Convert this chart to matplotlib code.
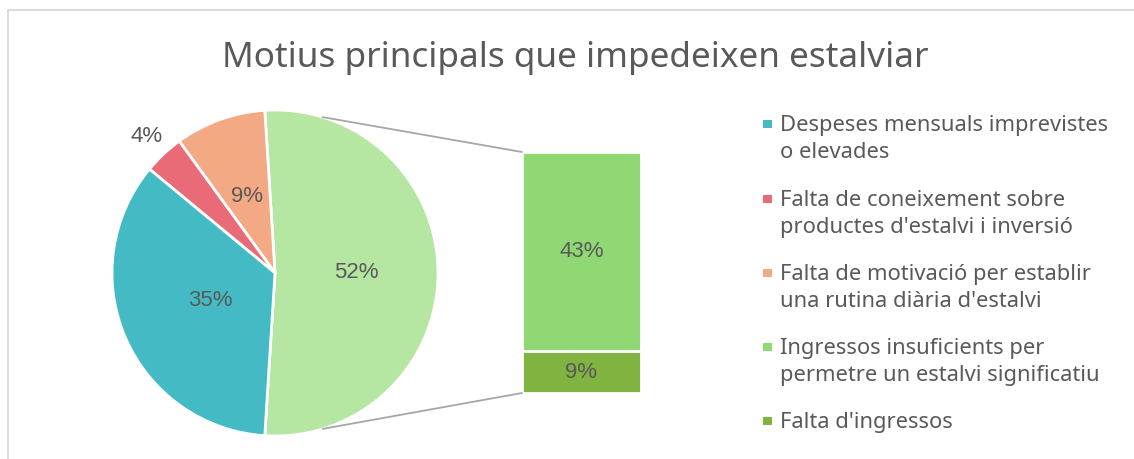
import numpy as np
import matplotlib.pyplot as plt
from matplotlib.patches import ConnectionPatch
from matplotlib.lines import Line2D

# Dades
pie_values = [52, 9, 4, 35]  # ingressos (agrupat), motivació, coneixement, despeses
pie_colors = ["#b5e6a2", "#f4a985", "#ea6b78", "#44bbc4"]
bar_values = [9, 43]  # Falta d'ingressos, Ingressos insuficients
bar_colors = ["#80b33f", "#8fd873"]

legend_labels = [
    "Despeses mensuals imprevistes\no elevades",
    "Falta de coneixement sobre\nproductes d'estalvi i inversió",
    "Falta de motivació per establir\nuna rutina diària d'estalvi",
    "Ingressos insuficients per\npermetre un estalvi significatiu",
    "Falta d'ingressos",
]
legend_colors = ["#44bbc4", "#ea6b78", "#f4a985", "#8fd873", "#80b33f"]

title = "Motius principals que impedeixen estalviar"
text_color = "#595959"
ui_font = ["Noto Sans", "DejaVu Sans"]
lbl_font = ["Liberation Sans", "DejaVu Sans"]

W, H = 1134, 459
fig = plt.figure(figsize=(W / 100, H / 100), dpi=100)

# Vora del gràfic
fig.add_artist(Line2D([7.5 / W, 1], [1 - 9.5 / H] * 2, color="#d9d9d9", lw=1.3))
fig.add_artist(Line2D([7.5 / W] * 2, [0, 1 - 9.5 / H], color="#d9d9d9", lw=1.3))

# Títol
fig.text(575 / W, 1 - 67 / H, title, ha="center", va="baseline",
         fontsize=25.3, color=text_color, family=ui_font)

# Pastís
cx, cy, r = 275, H - 273, 163
lim = 1.2
side = 2 * lim * r
ax_pie = fig.add_axes([(cx - side / 2) / W, (cy - side / 2) / H, side / W, side / H])
start = -pie_values[0] / 100 * 180
wedges, texts, autotexts = ax_pie.pie(
    pie_values, colors=pie_colors, startangle=start, counterclock=True,
    autopct="%.0f%%", pctdistance=0.5,
    wedgeprops=dict(edgecolor="white", linewidth=2),
    textprops=dict(color=text_color, fontsize=16, family=lbl_font))
ax_pie.set_xlim(-lim, lim)
ax_pie.set_ylim(-lim, lim)
ax_pie.set_aspect("equal")

# Reposicionar etiquetes (4% fora, 35% una mica més a dins)
for w, t in zip(wedges, autotexts):
    ang = np.deg2rad((w.theta1 + w.theta2) / 2)
    d = 0.5
    if w.theta2 - w.theta1 < 20:
        d = 1.15
    elif w.theta2 - w.theta1 > 100 and w.theta1 > 90:
        d = 0.43
    t.set_position((d * np.cos(ang), d * np.sin(ang)))

# Barra
bx0, bx1, by0, by1 = 522, 641, H - 393, H - 152
ax_bar = fig.add_axes([bx0 / W, by0 / H, (bx1 - bx0) / W, (by1 - by0) / H])
bottom = 0
for v, c in zip(bar_values, bar_colors):
    bc = ax_bar.bar(0, v, bottom=bottom, width=1, color=c, edgecolor="white", linewidth=2)
    ax_bar.bar_label(bc, labels=["%d%%" % v], label_type="center",
                     color=text_color, fontsize=16, family=lbl_font)
    bottom += v
ax_bar.set_xlim(-0.5, 0.5)
ax_bar.set_ylim(0, sum(bar_values))
ax_bar.axis("off")

# Línies de connexió
theta = np.deg2rad(73)
for sgn, yb in [(1, sum(bar_values)), (-1, 0)]:
    con = ConnectionPatch(xyA=(np.cos(theta), sgn * np.sin(theta)), coordsA=ax_pie.transData,
                          xyB=(-0.5, yb), coordsB=ax_bar.transData,
                          color="#a6a6a6", lw=1.3)
    fig.add_artist(con)

# Llegenda
base_y = [131, 206, 280, 354, 428]
for lab, col, y in zip(legend_labels, legend_colors, base_y):
    fig.add_artist(plt.Rectangle((763 / W, 1 - (y - 3) / H), 8.5 / W, 8.5 / H,
                                 facecolor=col, edgecolor="none"))
    for i, line in enumerate(lab.split("\n")):
        fig.text(780 / W, 1 - (y + 27 * i) / H, line, ha="left", va="baseline",
                 fontsize=15.8, color=text_color, family=ui_font)

fig.savefig("out.png", dpi=100)
